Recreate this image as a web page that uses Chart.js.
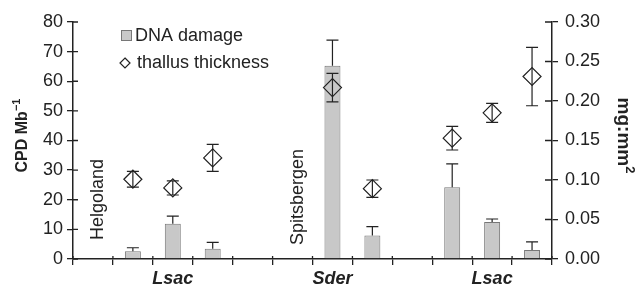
<!DOCTYPE html>
<html>
<head>
<meta charset="utf-8">
<title>DNA damage and thallus thickness</title>
<script src="https://cdn.jsdelivr.net/npm/chart.js@4.4.1/dist/chart.umd.min.js"></script>
<style>
  html, body { margin: 0; padding: 0; background: #fff; }
  #wrap { width: 639px; height: 286px; }
</style>
</head>
<body>
<div id="wrap"><canvas id="myChart"></canvas></div>
<script>
// 12 slots along x; empty slots are gaps between the groups
const tickLabels = ['', '', 'Lsac', '', '', '', 'Sder', '', '', '', 'Lsac', ''];
const dnaDamage = [null, 2.6, 11.9, 3.5, null, null, 65.2, 7.9, null, 24.2, 12.5, 3.0];
const dnaError = [null, 1.2, 2.6, 2.1, null, null, 8.7, 3.0, null, 7.9, 1.0, 2.8];
const thickness = [null, 0.101, 0.090, 0.128, null, null, 0.217, 0.089, null, 0.153, 0.185, 0.231];
const thickError = [null, 0.010, 0.009, 0.017, null, null, 0.018, 0.011, null, 0.015, 0.012, 0.037];
const siteNames = ['Helgoland', 'Spitsbergen'];
const siteSlots = [0, 5];
const siteStart = [6.4, 4.7];

const FONT = "'Liberation Sans', Arial, Helvetica, sans-serif";
const INK = '#222';
const BAR_FILL = '#c8c8c8';
const BAR_EDGE = '#777';

Chart.defaults.font.family = FONT;
Chart.defaults.font.size = 18;
Chart.defaults.color = INK;

function drawParts(ctx, x, y, angle, parts) {
  ctx.save();
  ctx.translate(x, y);
  ctx.rotate(angle);
  ctx.textBaseline = 'middle';
  ctx.textAlign = 'left';
  let total = 0;
  parts.forEach(p => { ctx.font = p.font; total += ctx.measureText(p.text).width; });
  let cx = -total / 2;
  parts.forEach(p => {
    ctx.font = p.font;
    ctx.fillText(p.text, cx, p.dy);
    cx += ctx.measureText(p.text).width;
  });
  ctx.restore();
}

const extras = {
  id: 'extras',
  afterDatasetsDraw(chart) {
    const ctx = chart.ctx;
    const x = chart.scales.x, y = chart.scales.y, y1 = chart.scales.y1;
    ctx.save();
    ctx.strokeStyle = INK;
    ctx.lineWidth = 1.2;
    const cap = 6;
    // error bars on the bars (upper half only)
    dnaDamage.forEach((v, i) => {
      if (v === null) return;
      const px = x.getPixelForValue(i);
      const top = y.getPixelForValue(v + dnaError[i]);
      ctx.beginPath();
      ctx.moveTo(px, y.getPixelForValue(v));
      ctx.lineTo(px, top);
      ctx.moveTo(px - cap, top);
      ctx.lineTo(px + cap, top);
      ctx.stroke();
    });
    // error bars on thickness
    thickness.forEach((v, i) => {
      if (v === null) return;
      const px = x.getPixelForValue(i);
      const hi = y1.getPixelForValue(v + thickError[i]);
      const lo = y1.getPixelForValue(v - thickError[i]);
      ctx.beginPath();
      ctx.moveTo(px, lo);
      ctx.lineTo(px, hi);
      ctx.moveTo(px - cap, hi);
      ctx.lineTo(px + cap, hi);
      ctx.moveTo(px - cap, lo);
      ctx.lineTo(px + cap, lo);
      ctx.stroke();
    });
    ctx.restore();
  },
  afterDraw(chart) {
    const ctx = chart.ctx;
    const area = chart.chartArea;
    const x = chart.scales.x, y = chart.scales.y, y1 = chart.scales.y1;
    ctx.save();
    ctx.strokeStyle = INK;
    ctx.fillStyle = INK;
    ctx.lineWidth = 1.3;
    // inner halves of the tick marks
    ctx.beginPath();
    y.ticks.forEach((t, i) => {
      const py = y.getPixelForTick(i);
      ctx.moveTo(area.left, py);
      ctx.lineTo(area.left + 5, py);
    });
    y1.ticks.forEach((t, i) => {
      const py = y1.getPixelForTick(i);
      ctx.moveTo(area.right - 7, py);
      ctx.lineTo(area.right, py);
    });
    for (let i = 0; i <= tickLabels.length; i++) {
      const px = x.getPixelForValue(i - 0.5);
      ctx.moveTo(px, area.bottom);
      ctx.lineTo(px, area.bottom - 3);
    }
    ctx.stroke();

    // site names
    ctx.font = '18px ' + FONT;
    siteNames.forEach((name, k) => {
      ctx.save();
      ctx.translate(x.getPixelForValue(siteSlots[k]) + 5, y.getPixelForValue(siteStart[k]));
      ctx.rotate(-Math.PI / 2);
      ctx.textAlign = 'left';
      ctx.textBaseline = 'middle';
      ctx.fillText(name, 0, 0);
      ctx.restore();
    });

    // axis titles
    const midY = (area.top + area.bottom) / 2 - 5;
    drawParts(ctx, 23, midY, -Math.PI / 2, [
      { text: 'CPD Mb', font: 'bold 16px ' + FONT, dy: 0 },
      { text: '\u22121', font: 'bold 11px ' + FONT, dy: -6 }
    ]);
    drawParts(ctx, 623, midY, Math.PI / 2, [
      { text: 'mg:mm', font: 'bold 19px ' + FONT, dy: 0 },
      { text: '2', font: 'bold 13px ' + FONT, dy: -7 }
    ]);

    // legend
    const lx = area.left + 48, ly = area.top + 8;
    const ds = chart.data.datasets;
    ctx.fillStyle = BAR_FILL;
    ctx.fillRect(lx + 0.5, ly + 0.5, 10, 10);
    ctx.strokeStyle = BAR_EDGE;
    ctx.lineWidth = 1;
    ctx.strokeRect(lx + 0.5, ly + 0.5, 10, 10);
    ctx.fillStyle = INK;
    ctx.font = '18px ' + FONT;
    ctx.textBaseline = 'middle';
    ctx.textAlign = 'left';
    ctx.fillText(ds[0].label, lx + 14, ly + 6);
    const dx = lx + 4, dy = ly + 33;
    ctx.strokeStyle = INK;
    ctx.lineWidth = 1.2;
    ctx.beginPath();
    ctx.moveTo(dx, dy - 5);
    ctx.lineTo(dx + 5, dy);
    ctx.lineTo(dx, dy + 5);
    ctx.lineTo(dx - 5, dy);
    ctx.closePath();
    ctx.stroke();
    ctx.fillText(ds[1].label, lx + 16, dy);
    ctx.restore();
  }
};

const axisGrid = { drawOnChartArea: false, color: INK, lineWidth: 1.3, tickLength: 6 };
const axisBorder = { display: true, color: INK, width: 1.5 };

new Chart(document.getElementById('myChart'), {
  type: 'bar',
  data: {
    labels: tickLabels,
    datasets: [{
      label: 'DNA damage',
      data: dnaDamage,
      yAxisID: 'y',
      backgroundColor: BAR_FILL,
      borderColor: BAR_EDGE,
      borderWidth: 1,
      barPercentage: 0.4,
      categoryPercentage: 1,
      order: 2
    }, {
      type: 'line',
      label: 'thallus thickness',
      data: thickness,
      yAxisID: 'y1',
      showLine: false,
      pointStyle: 'rectRot',
      pointRadius: 9,
      pointBorderWidth: 1.2,
      pointBorderColor: INK,
      pointBackgroundColor: 'rgba(0,0,0,0)',
      order: 1
    }]
  },
  options: {
    responsive: true,
    maintainAspectRatio: false,
    animation: false,
    layout: { padding: { top: 22, left: 0, right: 0, bottom: 0 } },
    plugins: { legend: { display: false }, tooltip: { enabled: false } },
    scales: {
      x: {
        grid: { ...axisGrid, tickLength: 6 },
        border: axisBorder,
        ticks: {
          autoSkip: false, maxRotation: 0, padding: 3,
          font: { size: 18, weight: 'bold', style: 'italic' }
        },
        afterFit(s) { s.height = 27; }
      },
      y: {
        position: 'left',
        min: 0, max: 80,
        grid: axisGrid,
        border: axisBorder,
        ticks: { stepSize: 10, padding: 4 },
        afterFit(s) { s.width = 73; }
      },
      y1: {
        position: 'right',
        min: 0, max: 0.3,
        grid: axisGrid,
        border: axisBorder,
        ticks: { stepSize: 0.05, padding: 7, callback: v => v.toFixed(2) },
        afterFit(s) { s.width = 87; }
      }
    }
  },
  plugins: [extras]
});
</script>
</body>
</html>
